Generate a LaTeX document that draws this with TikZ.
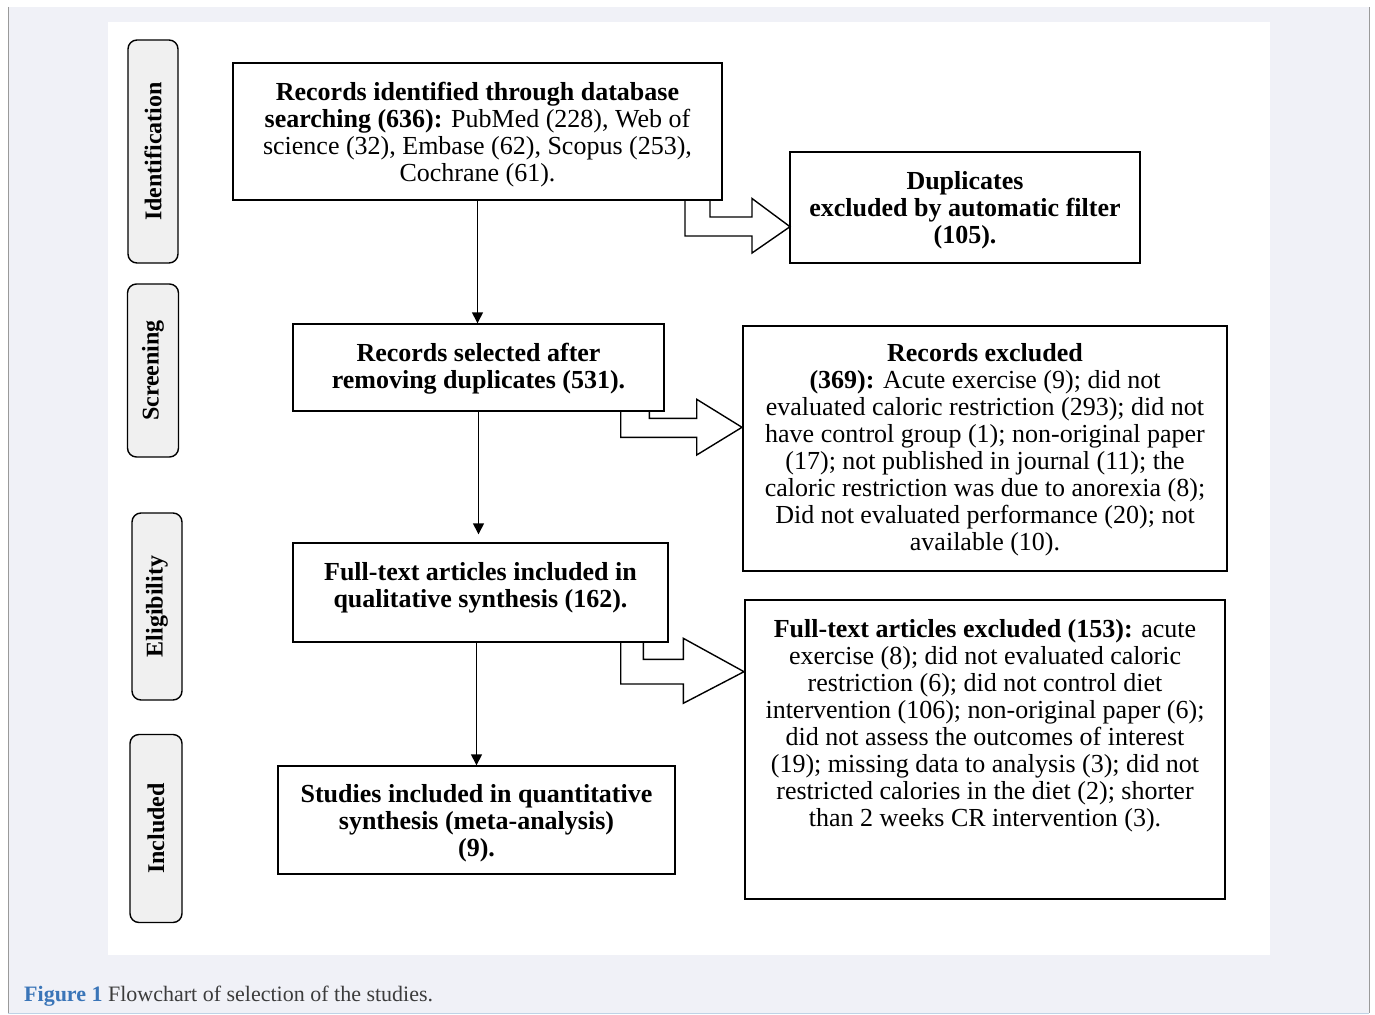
\documentclass[tikz,border=0pt]{standalone}
\usepackage{fontspec}
\setmainfont{Liberation Serif}
\usetikzlibrary{arrows.meta}
\definecolor{pagegray}{HTML}{F0F1F7}
\definecolor{framegray}{HTML}{9A9A9A}
\definecolor{framelblue}{HTML}{BFD3E6}
\definecolor{stagefill}{HTML}{F0F0F0}
\definecolor{figblue}{HTML}{3A75B8}
\definecolor{captext}{HTML}{3C3C3C}

\tikzset{
  box/.style={draw, line width=1.4pt, align=center, inner sep=0pt,
    font=\fontsize{26}{27}\selectfont},
  boxtext/.style={align=center, inner sep=0pt, anchor=north,
    font=\fontsize{26}{27}\selectfont},
  stage/.style={draw, line width=1.4pt, fill=stagefill, rounded corners=9pt,
    rotate=90, inner sep=0pt, font=\bfseries\fontsize{24}{24}\selectfont},
  flow/.style={line width=1.4pt, -{Triangle[length=11pt,width=11pt]}},
  hollow/.style={line width=1.4pt, line join=miter},
}

\begin{document}
\begin{tikzpicture}[x=1pt,y=-1pt]
  \def\pad{20pt}

  % page and panel
  \useasboundingbox (0,0) rectangle (1375,1014);
  \fill[white] (0,0) rectangle (1375,1014);
  \fill[pagegray] (8,7) rectangle (1369,1013);
  \draw[framegray, line width=1pt] (8,7) -- (8,1013);
  \draw[framegray, line width=1pt] (1369,7) -- (1369,1013);
  \draw[framelblue, line width=1pt] (8,1013) -- (1369,1013);
  \fill[white] (108,22) rectangle (1270,955);

  % stages
  \node[stage, minimum width=223pt, minimum height=50pt] (id) at (153,151.5) {Identification};
  \node[stage, minimum width=173pt, minimum height=51pt] (sc) at (153,370.5) {Screening};
  \node[stage, minimum width=187pt, minimum height=50pt] (el) at (157,606.5) {Eligibility};
  \node[stage, minimum width=188pt, minimum height=52pt] (in) at (156,828.5) {Included};

  % boxes
  \node[box, minimum width=489pt, minimum height=137pt] (ident) at (477.5,131.5) {};
  \node[boxtext] (identtext) at ([yshift=-\pad]ident.north)
    {\textbf{Records identified through database}\\
     \textbf{searching (636):} PubMed (228), Web of\\
     science (32), Embase (62), Scopus (253),\\
     Cochrane (61).};
  \node[box, minimum width=350pt, minimum height=111pt] (dup) at (965,207.5) {};
  \node[boxtext] (duptext) at ([yshift=-\pad]dup.north)
    {\textbf{Duplicates}\\
     \textbf{excluded by automatic filter}\\
     \textbf{(105).}};
  \node[box, minimum width=371pt, minimum height=87pt] (sel) at (478.5,367.5) {};
  \node[boxtext] (seltext) at ([yshift=-\pad]sel.north)
    {\textbf{Records selected after}\\
     \textbf{removing duplicates (531).}};
  \node[box, minimum width=484pt, minimum height=245pt] (excl1) at (985,448.5) {};
  \node[boxtext] (excl1text) at ([yshift=-18pt]excl1.north)
    {\textbf{Records excluded}\\
     \textbf{(369):} Acute exercise (9); did not\\
     evaluated caloric restriction (293); did not\\
     have control group (1); non-original paper\\
     (17); not published in journal (11); the\\
     caloric restriction was due to anorexia (8);\\
     Did not evaluated performance (20); not\\
     available (10).};
  \node[box, minimum width=375pt, minimum height=99pt] (incl) at (480.5,592.5) {};
  \node[boxtext] (incltext) at ([yshift=-\pad]incl.north)
    {\textbf{Full-text articles included in}\\
     \textbf{qualitative synthesis (162).}};
  \node[box, minimum width=480pt, minimum height=299pt] (excl2) at (985,749.5) {};
  \node[boxtext] (excl2text) at ([yshift=-\pad]excl2.north)
    {\textbf{Full-text articles excluded (153):} acute\\
     exercise (8); did not evaluated caloric\\
     restriction (6); did not control diet\\
     intervention (106); non-original paper (6);\\
     did not assess the outcomes of interest\\
     (19); missing data to analysis (3); did not\\
     restricted calories in the diet (2); shorter\\
     than 2 weeks CR intervention (3).};
  \node[box, minimum width=397pt, minimum height=108pt] (quant) at (476.5,820) {};
  \node[boxtext] (quanttext) at ([yshift=-19pt]quant.north)
    {\textbf{Studies included in quantitative}\\
     \textbf{synthesis (meta-analysis)}\\
     \textbf{(9).}};

  % main flow
  \draw[flow] (ident.south) -- (ident.south |- sel.north);
  \draw[flow, shorten >=8pt] (sel.south) -- (sel.south |- incl.north);
  \draw[flow] (incl.south -| quant.north) -- (quant.north);

  % exclusion arrows
  \draw[hollow] (685,201) -- (685,236) -- (752,236) -- (752,253) -- (790,226.7)
    -- (752,198.5) -- (752,217) -- (710,217) -- (710,201);
  \draw[hollow] (620.7,412) -- (620.7,437.3) -- (696.7,437.3) -- (696.7,455) -- (742,427.3)
    -- (696.7,399.3) -- (696.7,418.3) -- (649.3,418.3) -- (649.3,412);
  \draw[hollow] (620.7,643) -- (620.7,684) -- (683.3,684) -- (683.3,703.3) -- (744,671.7)
    -- (683.3,638.3) -- (683.3,659.3) -- (643.3,659.3) -- (643.3,643);

  % caption
  \node[anchor=base west, inner sep=0pt, text=captext, font=\fontsize{22}{22}\selectfont]
    (caption) at (24,1001)
    {\textcolor{figblue}{\textbf{Figure 1}} Flowchart of selection of the studies.};
\end{tikzpicture}
\end{document}
